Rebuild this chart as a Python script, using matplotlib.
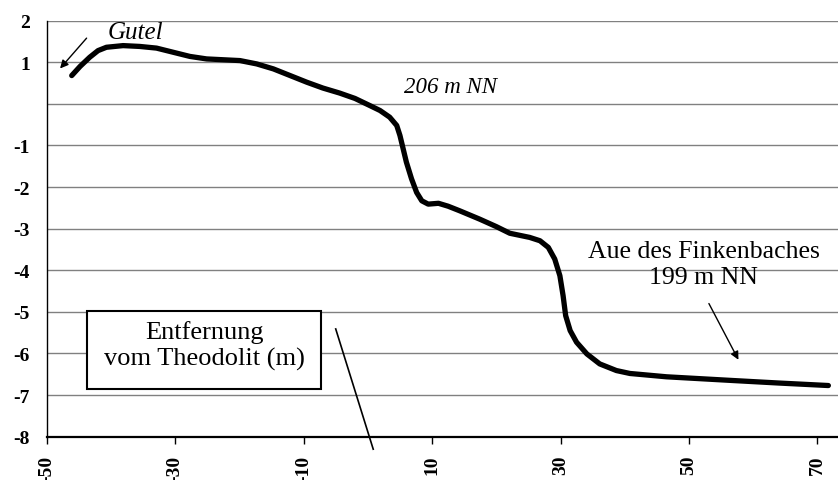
import matplotlib
matplotlib.use("Agg")
from matplotlib import pyplot as plt
from matplotlib.patches import Rectangle

# profile: distance from theodolite (m) vs. relative height (m)
dist = [-46.1, -44.8, -43.3, -42.0, -40.7, -38.1, -35.5, -32.9, -30.3, -27.7,
        -25.1, -22.5, -19.9, -17.3, -14.7, -12.1, -9.5, -7.0, -4.4, -2.0,
        0.3, 1.9, 3.4, 4.5, 5.0, 5.5, 6.0, 6.8, 7.6, 8.4,
        9.4, 11.0, 12.5, 14.3, 17.4, 20.0, 22.1, 25.2, 26.8, 28.1,
        29.1, 29.9, 30.4, 30.8, 31.5, 32.5, 34.1, 36.1, 38.7, 40.8,
        46.5, 56.9, 64.0, 71.7]
height = [0.68, 0.90, 1.12, 1.28, 1.36, 1.40, 1.38, 1.34, 1.24, 1.14,
          1.08, 1.06, 1.04, 0.96, 0.84, 0.68, 0.52, 0.38, 0.26, 0.13,
          -0.04, -0.16, -0.32, -0.52, -0.76, -1.08, -1.40, -1.80, -2.13, -2.33,
          -2.41, -2.39, -2.46, -2.57, -2.77, -2.95, -3.11, -3.21, -3.29, -3.45,
          -3.73, -4.13, -4.61, -5.09, -5.45, -5.73, -6.01, -6.25, -6.41, -6.48,
          -6.56, -6.65, -6.71, -6.77]

x_ticks = [-50, -30, -10, 10, 30, 50, 70]
y_ticks = [2, 1, 0, -1, -2, -3, -4, -5, -6, -7, -8]
y_labels = ["2", "1", "", "-1", "-2", "-3", "-4", "-5", "-6", "-7", "-8"]

plt.rcParams['font.family'] = ['Liberation Serif', 'DejaVu Serif']

fig = plt.figure(figsize=(8.38, 4.81), dpi=100)
ax = fig.add_axes([0.0557, 0.09, 0.9443, 0.865])

for yv in y_ticks[:-1]:
    ax.axhline(yv, color="#808080", lw=1.0, zorder=1)

ax.plot(dist, height, color="black", lw=3.8, solid_capstyle="round",
        solid_joinstyle="round", zorder=3)

ax.set_xlim(-50, 73.2)
ax.set_ylim(-8, 2)
ax.set_xticks(x_ticks)
ax.set_xticklabels([str(v) for v in x_ticks], rotation=90, fontweight="bold", fontsize=14)
ax.set_yticks(y_ticks)
ax.set_yticklabels(y_labels, fontweight="bold", fontsize=14)
ax.tick_params(axis="x", direction="out", length=5, width=1, pad=8)
ax.tick_params(axis="y", length=0, pad=12)

for s in ["top", "right"]:
    ax.spines[s].set_visible(False)
ax.spines["left"].set_linewidth(1.0)
ax.spines["bottom"].set_linewidth(1.6)

# annotations
ax.text(-36.2, 1.73, "Gutel", fontsize=18, style="italic", ha="center", va="center")
ax.annotate("", xy=(-48.2, 0.80), xytext=(-43.5, 1.63),
            arrowprops=dict(arrowstyle="-|>", color="black", lw=1, mutation_scale=12))
ax.text(12.8, 0.41, "206 m NN", fontsize=16.5, style="italic", ha="center", va="center")
ax.text(52.3, -3.85, "Aue des Finkenbaches\n199 m NN", fontsize=18.5, ha="center",
        va="center", linespacing=1.2)
ax.annotate("", xy=(57.9, -6.21), xytext=(52.9, -4.74),
            arrowprops=dict(arrowstyle="-|>", color="black", lw=1, mutation_scale=12))

ax.add_patch(Rectangle((-43.72, -6.85), 36.48, 1.88, fill=True, facecolor="white",
                       edgecolor="black", lw=1.5, zorder=4))
ax.text(-25.44, -5.79, "Entfernung\nvom Theodolit (m)", fontsize=19, ha="center",
        va="center", linespacing=1.2, zorder=5)
ax.plot([-5.0, 0.84], [-5.41, -8.30], color="black", lw=1.2, clip_on=False, zorder=4)

fig.savefig("out.png", dpi=100)
